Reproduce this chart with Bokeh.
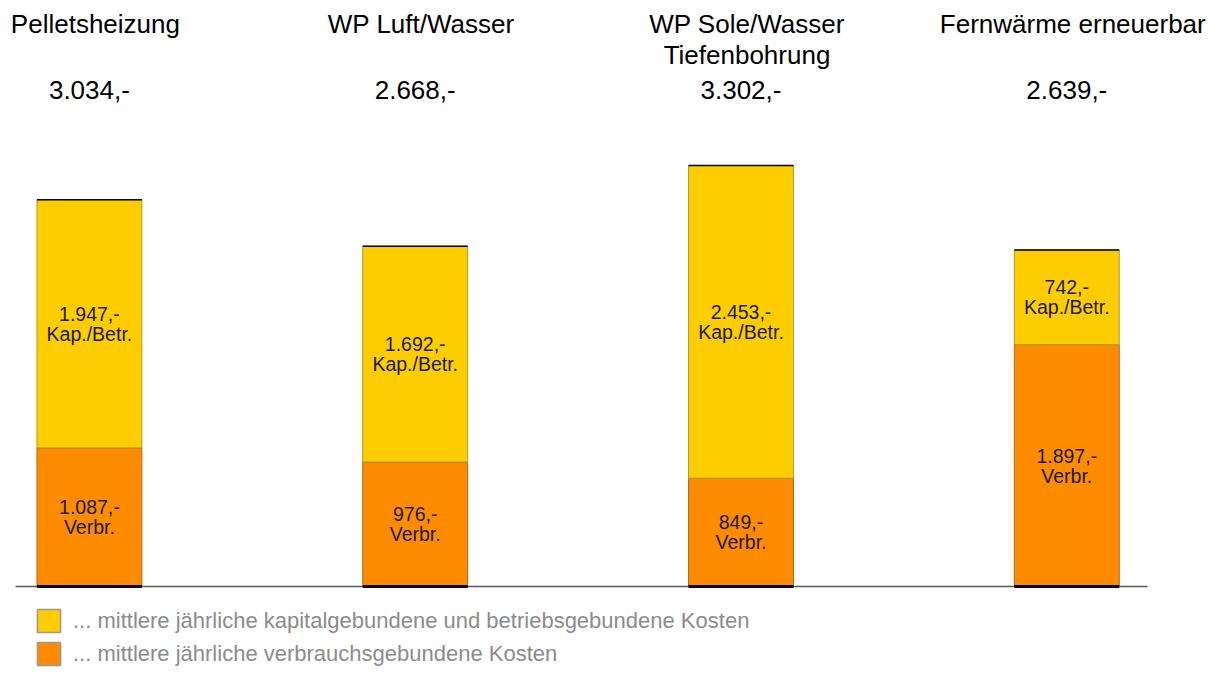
from bokeh.plotting import figure
from bokeh.models import ColumnDataSource, LabelSet, Legend, LegendItem, Range1d
from bokeh.core.properties import value
from bokeh.embed import file_html
from bokeh.resources import INLINE

# ---- data ----
categories = ["Pelletsheizung", "WP Luft/Wasser", "WP Sole/Wasser\nTiefenbohrung", "Fernwärme erneuerbar"]
verbrauch = [1087, 976, 849, 1897]          # verbrauchsgebundene Kosten
kapital = [1947, 1692, 2453, 742]           # kapital- und betriebsgebundene Kosten
totals = [3034, 2668, 3302, 2639]
legend_labels = [
    "... mittlere jährliche kapitalgebundene und betriebsgebundene Kosten",
    "... mittlere jährliche verbrauchsgebundene Kosten",
]

YELLOW = "#FECD00"
ORANGE = "#FF8C00"
FONT = value("Liberation Sans")
NAN = float("nan")


def fmt(v):
    return f"{v:,}".replace(",", ".") + ",-"


xs = list(range(len(categories)))
BAR_W = 0.322
name_lines = [c.split("\n") + [""] for c in categories]
src = ColumnDataSource(dict(
    x=xs,
    verb=verbrauch,
    kap=kapital,
    total=totals,
    name1=[n[0] for n in name_lines],
    name2=[n[1] for n in name_lines],
    total_lbl=[fmt(t) for t in totals],
    verb_val=[fmt(v) for v in verbrauch],
    verb_txt=["Verbr."] * len(xs),
    kap_val=[fmt(k) for k in kapital],
    kap_txt=["Kap./Betr."] * len(xs),
    verb_mid=[v / 2 for v in verbrauch],
    kap_mid=[v + k / 2 for v, k in zip(verbrauch, kapital)],
    left=[x - BAR_W / 2 for x in xs],
    right=[x + BAR_W / 2 for x in xs],
    zero=[0] * len(xs),
))

W, H = 1207, 669
p = figure(width=W, height=H, output_backend="svg", toolbar_location=None,
           min_border=0, outline_line_color=None,
           x_range=Range1d(-0.2729, 3.4319), y_range=Range1d(-651, 4596))
p.axis.visible = False
p.grid.visible = False
p.background_fill_color = "white"
p.border_fill_color = "white"

rs = p.vbar_stack(["verb", "kap"], x="x", width=BAR_W, source=src,
                  fill_color=[ORANGE, YELLOW],
                  line_color=["#b06a1a", "#b09a30"], line_width=1)

# baseline
p.segment(x0=-0.2268, x1=3.2477, y0=0, y1=0, line_color="#555555", line_width=1.5)
# black bottom and top edges of the bars
p.segment(x0="left", x1="right", y0="zero", y1="zero", source=src,
          line_color="black", line_width=3)
p.segment(x0="left", x1="right", y0="total", y1="total", source=src,
          line_color="black", line_width=1.5)

# labels inside bars (two centred lines)
for col, ycol, off in (("verb_val", "verb_mid", 10), ("verb_txt", "verb_mid", -10),
                       ("kap_val", "kap_mid", 10), ("kap_txt", "kap_mid", -10)):
    p.add_layout(LabelSet(x="x", y=ycol, text=col, source=src, y_offset=off,
                          text_align="center", text_baseline="middle",
                          text_font=FONT, text_font_size="19.5px",
                          text_color="#1a1a1a"))

# category names and totals above
p.add_layout(LabelSet(x="x", y=637, y_units="screen", text="name1", source=src,
                      x_offset=6, text_align="center", text_baseline="alphabetic",
                      text_font=FONT, text_font_size="26px", text_color="black"))
p.add_layout(LabelSet(x="x", y=606, y_units="screen", text="name2", source=src,
                      x_offset=6, text_align="center", text_baseline="alphabetic",
                      text_font=FONT, text_font_size="26px", text_color="black"))
p.add_layout(LabelSet(x="x", y=570.5, y_units="screen", text="total_lbl", source=src,
                      text_align="center", text_baseline="alphabetic",
                      text_font=FONT, text_font_size="26px", text_color="black"))

# legend using dummy renderers (gray outlined squares)
d_y = p.quad(left=[NAN], right=[NAN], top=[NAN], bottom=[NAN], fill_color=YELLOW,
             line_color="#999999", line_width=1.5)
d_o = p.quad(left=[NAN], right=[NAN], top=[NAN], bottom=[NAN], fill_color=ORANGE,
             line_color="#999999", line_width=1.5)
legend = Legend(items=[LegendItem(label=legend_labels[0], renderers=[d_y]),
                       LegendItem(label=legend_labels[1], renderers=[d_o])],
                location=(34, 1), orientation="vertical",
                glyph_width=29, glyph_height=29, label_height=29,
                label_standoff=10, spacing=4, padding=0, margin=0,
                border_line_color=None, background_fill_alpha=0,
                label_text_font="Liberation Sans", label_text_font_size="22px",
                label_text_color="#8c8c8c")
p.add_layout(legend)

open("out.html", "w").write(file_html(p, INLINE))
